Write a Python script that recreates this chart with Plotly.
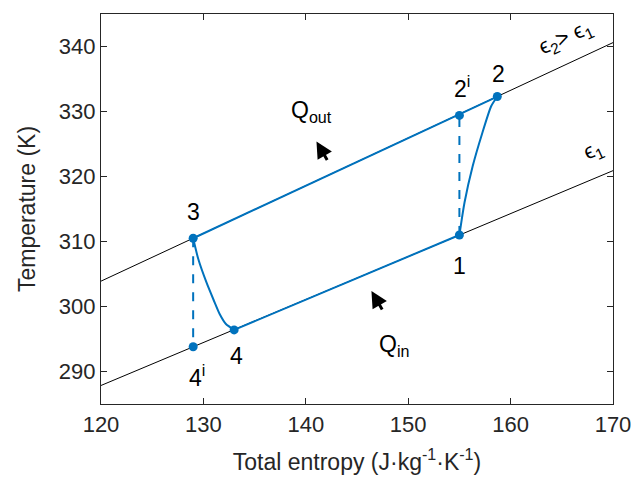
import plotly.graph_objects as go

# Constant-efficiency lines (entropy, temperature)
eps1_s = [120, 170]
eps1_T = [287.85, 320.9]
eps2_s = [120, 170]
eps2_T = [303.9, 340.6]

# State points
state_names = ["1", "2", "2i", "3", "4", "4i"]
state_s = [155.0, 158.7, 155.0, 129.0, 133.0, 129.0]
state_T = [311.0, 332.3, 329.4, 310.5, 296.4, 293.8]

# Process 1 -> 2 (curved)
proc12_s = [155.0, 155.5, 156.3, 157.2, 158.1, 158.7]
proc12_T = [311.0, 316.0, 321.6, 326.5, 330.8, 332.3]
# Process 3 -> 4 (curved)
proc34_s = [129.0, 129.5, 130.3, 131.0, 131.6, 132.2, 133.0]
proc34_T = [310.5, 307.3, 303.7, 301.0, 298.8, 297.3, 296.4]
# Heat rejection 2 -> 3 along upper line, heat absorption 4 -> 1 along lower line
upper_s = [158.7, 129.0]
upper_T = [332.3, 310.5]
lower_s = [133.0, 155.0]
lower_T = [296.4, 311.0]
# Isentropic (dashed) references
dash1_s = [155.0, 155.0]
dash1_T = [311.0, 329.4]
dash3_s = [129.0, 129.0]
dash3_T = [310.5, 293.8]

BLUE = "#0072BD"
FONT = "Liberation Sans, Arial, sans-serif"

fig = go.Figure()
for xs, ys in [(eps1_s, eps1_T), (eps2_s, eps2_T)]:
    fig.add_trace(go.Scatter(x=xs, y=ys, mode="lines",
                             line=dict(color="black", width=1), showlegend=False, hoverinfo="skip"))
for xs, ys in [(upper_s, upper_T), (lower_s, lower_T)]:
    fig.add_trace(go.Scatter(x=xs, y=ys, mode="lines",
                             line=dict(color=BLUE, width=2), showlegend=False))
for xs, ys in [(proc12_s, proc12_T), (proc34_s, proc34_T)]:
    fig.add_trace(go.Scatter(x=xs, y=ys, mode="lines",
                             line=dict(color=BLUE, width=2, shape="spline", smoothing=0.6),
                             showlegend=False))
for xs, ys in [(dash1_s, dash1_T), (dash3_s, dash3_T)]:
    fig.add_trace(go.Scatter(x=xs, y=ys, mode="lines",
                             line=dict(color=BLUE, width=2, dash="dash"), showlegend=False))
fig.add_trace(go.Scatter(x=state_s, y=state_T, mode="markers",
                         marker=dict(color=BLUE, size=9), showlegend=False))

labels = [
    ("2", 158.8, 335.7),
    ("2<sup>i</sup>", 155.3, 333.8),
    ("3", 129.0, 314.5),
    ("1", 155.0, 306.2),
    ("4", 133.2, 292.4),
    ("4<sup>i</sup>", 129.4, 289.3),
    ("Q<sub>out</sub>", 140.6, 330.0),
    ("Q<sub>in</sub>", 148.6, 294.0),
]
for txt, x, y in labels:
    fig.add_annotation(x=x, y=y, text=txt, showarrow=False,
                       font=dict(family=FONT, size=23, color="black"),
                       xanchor="center", yanchor="middle")

fig.add_annotation(x=165.4, y=341.3, text="ϵ<sub>2</sub>> ϵ<sub>1</sub>", showarrow=False,
                   textangle=-24, font=dict(family=FONT, size=22, color="black"))
fig.add_annotation(x=168.0, y=324.0, text="ϵ<sub>1</sub>", showarrow=False,
                   textangle=-24, font=dict(family=FONT, size=22, color="black"))

# Heat-flow arrows
for hx, hy in [(141.04, 325.4), (146.41, 302.4)]:
    fig.add_annotation(x=hx, y=hy, ax=11.6, ay=20, axref="pixel", ayref="pixel",
                       text="", showarrow=True, arrowhead=2, arrowsize=1.1,
                       arrowwidth=3, arrowcolor="black")

axis_common = dict(showgrid=False, zeroline=False, ticks="inside", ticklen=6,
                   mirror="ticks", showline=True, linecolor="#262626", linewidth=1.2,
                   tickcolor="#262626", tickfont=dict(family=FONT, size=22, color="#262626"),
                   automargin=False)
fig.update_xaxes(range=[120, 170], tickvals=[120, 130, 140, 150, 160, 170],
                 title=dict(text="Total entropy (J·kg<sup>-1</sup>·K<sup>-1</sup>)",
                            font=dict(family=FONT, size=23, color="#262626"), standoff=18),
                 **axis_common)
fig.update_yaxes(range=[285, 345], tickvals=[290, 300, 310, 320, 330, 340],
                 title=dict(text="Temperature (K)",
                            font=dict(family=FONT, size=23, color="#262626"), standoff=16),
                 **axis_common)

fig.update_layout(width=644, height=480, margin=dict(l=101, r=31, t=14, b=76),
                  plot_bgcolor="white", paper_bgcolor="white")

fig.write_html("out.html")
